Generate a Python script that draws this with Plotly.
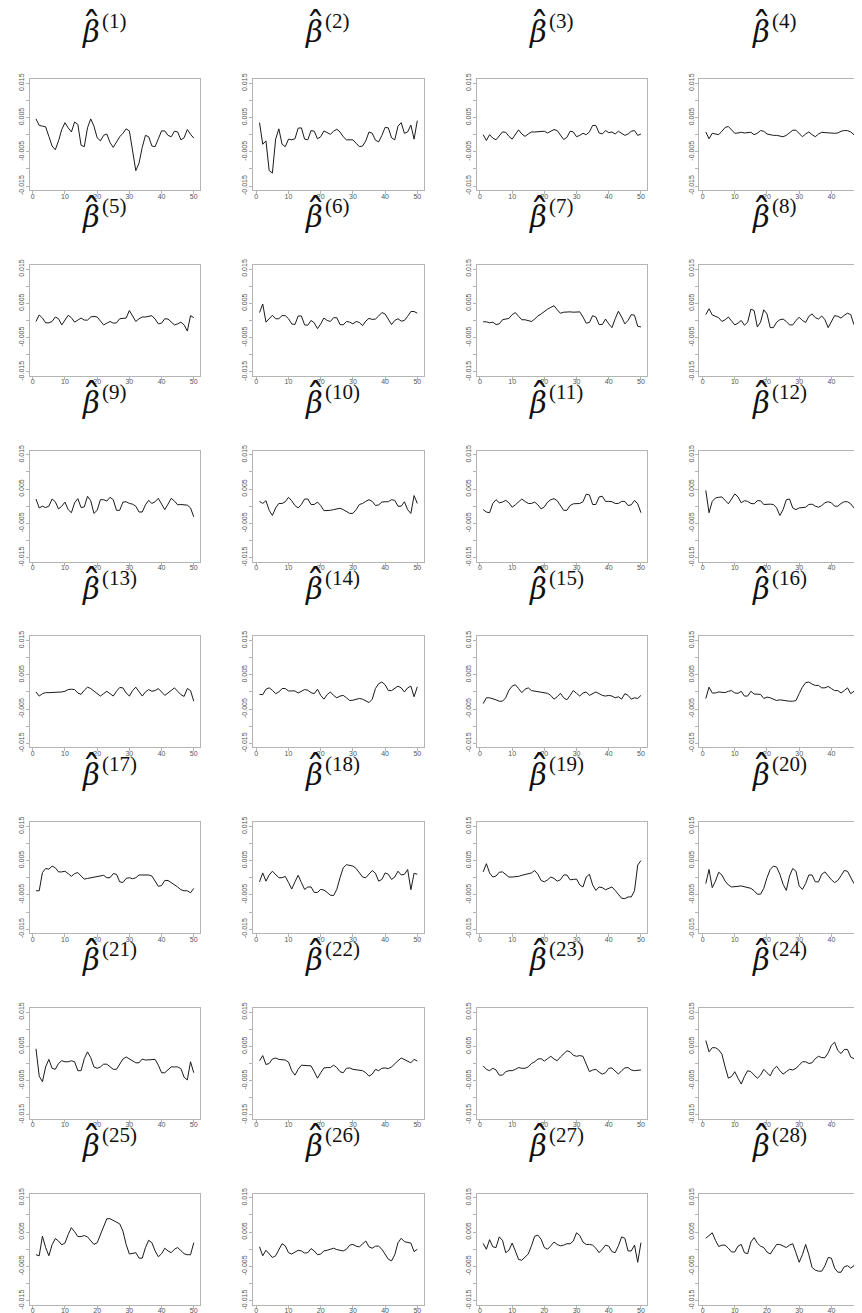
import plotly.graph_objects as go

# x positions (observation index)
obs_index = list(range(1, 51))

# Estimated coefficient paths, values in units of 0.001
beta_01 = [4.6,2.7,2.5,2.3,-0.5,-3.3,-4.4,-1.8,1.5,3.5, 2.0,0.8,3.7,3.0,-3.1,-3.5,2.0,4.6,2.5,-0.9,
           -1.8,-0.2,0.2,-2.3,-3.7,-2.3,-0.6,0.4,1.7,1.1, -4.2,-10.5,-8.3,-3.7,-0.2,-0.6,-3.3,-3.5,-1.2,1.1,
           1.1,-0.2,-0.6,1.0,0.8,-1.5,-0.9,1.5,0.1,-1.0]
beta_02 = [3.5,-2.8,-1.8,-10.5,-11.2,-1.3,1.7,-2.8,-3.5,-1.3, -1.5,-1.2,1.9,2.0,-1.3,-1.5,1.2,1.0,-1.2,-0.6,
           1.1,0.6,0.1,1.0,1.6,0.8,-0.6,-1.5,-1.6,-1.5, -2.5,-3.5,-3.3,-1.8,0.8,0.4,-1.6,-2.1,-0.2,2.1,
           2.0,-0.9,-1.5,2.5,3.5,0.4,0.8,2.8,-1.3,4.1]
beta_03 = [0,-1.7,0,-1.0,-1.5,-0.5,0.8,0.7,-0.5,-1.3, 0.2,1.4,0.2,-0.5,0.2,0.8,0.8,0.8,0.8,1.0,
           0.5,1.0,1.5,1.2,0,-1.4,-0.8,1.0,0.8,-0.6, -0.2,0.4,0,0.8,2.7,2.7,0.5,0.2,1.2,0.6,
           0.8,0.2,1.0,0.4,-0.2,0.2,1.0,1.2,-0.2,0.2]
beta_04 = [0.8,-1.2,0.4,0.2,0,1.0,2.1,2.4,1.4,0.4, 0.5,0.7,0.5,0.6,0.7,0,0.4,1.2,1.0,0.2,
           -0.1,-0.2,-0.2,-0.4,-0.6,-0.2,0.6,1.3,1.3,0.4, -0.6,0.2,0.8,0,-0.6,0.2,0.7,0.6,0.5,0.4,
           0.4,0.5,1.0,1.2,1.2,0.8,0,-0.8,-2.1,1.0]
beta_05 = [-0.3,1.6,0.7,-0.7,-0.7,-0.3,1.0,0.5,-1.3,0, 1.5,0.8,-0.5,0.1,0.7,0.1,0.1,1.0,1.2,1.0,
           -0.2,-1.3,-0.8,-0.3,-0.8,-0.7,0.5,0.7,0.7,2.9, 1.4,-0.3,0.5,1.0,1.0,1.2,1.4,0.4,-1.0,-0.8,
           0.5,0.4,-0.5,-1.3,-1.0,-0.5,-1.3,-3.1,1.4,0.8]
beta_06 = [2.3,4.8,-0.5,0.4,1.5,0.5,0.5,1.4,1.4,0.5, -1.0,-1.2,1.3,1.3,-1.3,-1.4,0,-0.7,-2.4,-1.0,
           0.7,0,-0.3,0.8,0.8,-1.2,-1.3,-0.3,-0.5,-1.0, -0.3,-0.6,-1.5,-0.2,0.6,0.3,0.4,1.3,2.3,1.9,
           0.5,-1.2,0,0.5,-0.2,0,1.2,2.6,2.6,2.1]
beta_07 = [-0.4,-0.4,-0.7,-0.5,-1.2,-1.0,0.2,0.5,0.6,1.7, 2.3,1.2,0.2,0.2,0,-0.3,0.4,1.3,1.9,2.7,
           3.3,3.8,4.3,3.1,2.1,2.4,2.5,2.5,2.4,2.5, 2.5,1.0,-0.8,-0.6,1.4,1.0,-1.2,-1.2,0.4,-1.0,
           -2.1,0.5,2.7,1.0,-1.0,0,1.7,1.5,-1.7,-1.9]
beta_08 = [1.7,3.4,1.6,1.3,0.8,-0.3,0.2,1.0,0,-1.3, -0.8,0,-1.4,-0.5,3.3,2.9,-1.9,-0.5,3.1,1.9,
           -2.1,-2.1,-0.5,0.2,0.4,-0.3,-1.3,-1.3,0,0.9, 0,-0.6,1.2,1.9,0.8,0.4,1.3,0.2,-2.1,-0.3,
           1.4,1.2,0.7,1.5,2.1,1.7,-1.2,-2.1,3.4,1.7]
beta_09 = [2.1,-0.5,0,-0.4,0,2.1,1.3,-0.8,0,1.2, -1.0,-1.9,1.0,2.2,-0.4,-0.2,2.9,1.6,-2.1,-1.2,
           1.9,1.9,1.5,2.6,1.9,-1.2,-1.2,1.2,1.3,0.8, 0.6,0,-1.7,-1.7,0.4,1.7,0.8,1.3,2.3,0.8,
           -1.0,0.6,2.3,1.5,0.4,0.5,0.5,0.3,-0.5,-3.1]
beta_10 = [1.4,0.8,1.6,-1.2,-2.7,-0.5,0.8,0.8,1.3,2.6, 1.6,0.2,-0.5,0.5,2.1,2.1,0.5,0.5,1.2,0.2,
           -1.3,-1.3,-1.2,-1.0,-0.7,-0.6,-1.0,-1.5,-2.1,-2.1, -1.0,0.5,0.8,1.4,1.9,1.4,0.2,0.4,1.2,1.3,
           1.3,1.9,1.7,0,0,1.3,-1.0,-2.1,3.1,0.8]
beta_11 = [-1.0,-1.7,-1.9,0.8,1.9,1.0,1.2,1.7,1.0,-0.3, 0.4,1.3,2.1,1.4,0.8,0.8,1.2,0.4,-0.8,-0.2,
           1.2,1.9,2.2,1.6,0,-1.2,-1.2,0.2,0.7,0.8, 0.8,1.3,3.5,3.3,0.5,0.5,2.7,2.9,1.4,1.4,
           1.3,0.8,0.8,1.4,1.4,0.2,0.4,1.7,0.7,-1.9]
beta_12 = [4.6,-1.9,1.4,2.4,2.6,2.7,1.7,0.7,2.1,3.6, 2.7,1.0,1.6,1.4,0.8,0.7,1.6,1.6,0.5,0.6,
           0.6,0.5,-0.5,-2.7,-1.0,1.9,2.1,-0.5,-1.0,-0.5, -0.5,-0.3,0.5,0.6,0,-0.3,0.2,1.0,1.3,1.0,
           0,0,0.8,1.3,1.3,0.7,-0.5,-1.2,-0.3,-1.9]
beta_13 = [0,-1.2,-0.5,-0.2,-0.2,-0.2,-0.2,-0.2,0,0.2, 0.7,0.8,0.7,-0.3,-0.7,0.5,1.4,1.0,0.2,-0.5,
           -1.2,-0.5,0.2,-0.5,-1.2,0.2,1.3,1.2,-0.3,-1.2, 0.4,1.4,0,-1.2,0,0.7,0.2,0.4,1.0,0,
           -1.0,-0.3,0.5,1.2,0.2,-0.8,-1.3,1.0,0.4,-2.7]
beta_14 = [-0.7,-0.8,0.8,1.2,0.5,-0.5,0,1.0,1.0,0.3, 0.3,0.3,-0.3,0.2,0.7,0.5,-0.2,-0.5,0.8,-1.0,
           -2.1,-0.8,0,-1.0,-1.7,-1.2,-1.0,-1.7,-2.5,-2.4, -2.1,-1.9,-2.1,-2.5,-3.1,-2.1,1.0,2.4,2.9,2.1,
           0.4,0.4,1.0,1.7,1.2,0,1.2,1.7,-1.4,1.5]
beta_15 = [-3.4,-1.7,-1.7,-1.9,-2.3,-2.7,-2.7,-1.7,0.5,1.7, 2.1,1.0,-0.2,0.8,1.2,0.4,0.2,0.2,0,-0.3,
           -0.4,-1.0,-2.1,-1.4,-0.4,-1.7,-2.3,-1.0,0.4,-0.4, -1.2,-0.3,0,-1.0,-0.5,0,-0.5,-1.0,-1.2,-1.0,
           -1.2,-1.7,-1.4,-2.1,-0.5,-1.0,-2.1,-1.7,-1.9,-1.0]
beta_16 = [-1.9,1.4,-0.3,-0.3,0,-0.2,-0.2,0.2,0.4,-0.3, -0.4,0.2,-1.2,-1.2,0.2,-0.6,-0.7,-0.7,-1.9,-1.5,
           -1.7,-2.1,-2.5,-2.3,-2.5,-2.7,-2.7,-2.7,-2.5,-0.5, 1.4,2.7,2.9,2.3,1.9,1.9,1.2,1.2,1.6,1.0,
           0.4,0.4,-0.3,0.4,1.2,-0.5,0.2,1.4,0,0.5]
beta_17 = [-3.8,-3.8,1.5,2.7,2.5,3.4,2.9,1.7,1.7,1.9, 1.2,0.4,1.2,1.5,0.5,-0.4,-0.2,0,0.2,0.4,
           0.7,0.7,0,0,1.2,1.0,-1.2,-1.4,-0.2,0, -0.3,0,0.8,0.8,0.8,0.8,0.5,-1.0,-2.5,-2.3,
           -0.8,-0.8,-1.4,-2.1,-2.7,-3.5,-3.8,-3.8,-4.4,-3.1]
beta_18 = [-1.2,1.4,-1.0,0.8,1.9,0.8,0,0,0.4,-1.4, -3.3,-1.2,0.7,-1.4,-3.4,-2.7,-2.7,-4.3,-4.3,-3.4,
           -3.6,-4.3,-5.1,-5.2,-3.4,0,2.9,3.8,3.7,3.4, 2.7,1.6,0.2,0,1.0,2.1,1.3,-1.0,-0.5,1.4,
           1.0,-0.5,0.2,1.9,0.8,1.0,2.4,-3.5,1.3,1.0]
beta_19 = [1.7,4.1,1.4,0.2,0.5,1.6,1.7,0.8,0.2,0.2, 0.2,0.4,0.7,1.0,1.2,1.4,2.1,1.0,-0.8,-1.2,
           -0.6,0.2,-0.2,-1.0,-0.6,0.8,0.8,-0.6,-0.5,-0.4, -2.1,-2.7,0.2,1.0,-2.1,-3.7,-2.7,-2.9,-3.5,-3.1,
           -2.7,-3.7,-4.8,-6.0,-6.1,-5.6,-5.6,-3.8,3.7,5.0]
beta_20 = [-1.7,2.4,-2.9,-1.0,1.6,0.8,-1.0,-2.1,-2.7,-2.7, -2.5,-2.4,-2.7,-2.9,-3.1,-3.8,-4.8,-4.8,-3.1,0,
           2.4,3.4,3.1,1.0,-1.9,-3.7,0.5,2.7,1.9,-2.4, -3.4,-1.7,0.8,0.8,-1.2,-1.2,1.0,1.7,0.4,-0.6,
           -1.4,-0.8,0.6,2.1,1.9,0.2,-1.7,-1.2,2.9,-3.1]
beta_21 = [4.3,-3.7,-5.3,-1.0,1.2,-1.4,-1.7,0,0.8,0.5, 0.5,0.8,0.5,-2.1,-2.1,1.4,3.4,1.7,-1.0,-1.4,
           -1.0,-0.2,-0.2,-1.0,-1.7,-1.7,0,1.3,1.9,1.4, 0.7,0.2,0.2,1.3,1.0,1.0,1.0,1.2,-0.5,-2.7,
           -2.7,-1.9,-1.0,-1.0,-1.0,-1.5,-4.0,-4.8,0.5,-2.7]
beta_22 = [0.8,2.3,-0.3,0,1.3,1.6,1.2,1.0,1.0,0.4, -2.1,-3.4,-1.7,-0.5,-0.5,-0.6,-0.7,-2.4,-4.3,-2.7,
           -1.3,-1.2,-1.2,-0.5,-1.2,-2.4,-2.7,-1.4,-1.3,-1.7, -1.9,-1.9,-2.1,-2.7,-3.7,-3.1,-1.7,-2.1,-1.4,-1.3,
           -1.5,-1.0,0,0.8,1.6,1.2,0.8,0.2,1.2,0.7]
beta_23 = [-0.7,-1.7,-2.1,-1.4,-1.9,-3.4,-3.4,-2.4,-2.1,-2.1, -1.7,-1.2,-1.4,-1.4,-1.0,0,0.5,1.3,1.4,0.7,
           1.4,2.1,1.3,0.8,1.9,2.9,3.7,3.4,2.4,2.1, 2.3,2.1,0,-2.4,-1.9,-1.7,-2.5,-3.1,-2.7,-1.4,
           -1.3,-2.1,-3.1,-2.1,-1.3,-1.2,-1.9,-2.1,-1.9,-1.9]
beta_24 = [6.7,3.4,4.6,4.6,4.0,2.7,-1.0,-4.3,-3.8,-2.4, -4.3,-6.0,-3.8,-2.1,-2.4,-3.4,-4.3,-3.4,-1.7,-2.7,
           -3.6,-1.7,-0.8,-2.1,-3.1,-2.4,-1.7,-1.9,-1.4,-0.5, 0.5,0.5,0,0.2,1.4,2.1,1.7,1.7,3.1,5.3,
           6.2,3.8,2.9,4.1,4.1,1.9,1.4,2.9,2.7,6.3]
beta_25 = [-1.6,-1.9,3.8,0.5,-1.9,1.3,3.1,2.4,1.3,1.8, 4.3,6.3,5.1,3.7,3.7,4.0,3.6,2.4,1.4,1.9,
           4.3,6.7,8.9,8.9,8.4,8.0,7.4,5.3,1.4,-1.4, -1.3,-1.0,-2.6,-2.6,0.5,2.6,1.9,-0.5,-2.2,-1.3,
           0.3,-0.5,-1.0,0,0.5,-0.5,-1.3,-1.6,-1.6,1.9]
beta_26 = [0.7,-1.9,-0.3,-1.3,-2.4,-1.9,0,1.6,1.0,-1.0, -1.4,-0.8,-0.3,-0.5,-1.1,-1.0,0.2,-0.5,-1.6,-1.4,
           -0.5,-0.3,-0.1,0.3,-0.1,-0.3,-0.5,0,1.2,1.4, 0.9,0.7,1.6,2.4,0.7,0.3,0.9,0.9,0,-1.6,
           -2.9,-3.4,-1.6,1.9,3.2,2.2,2.0,1.8,-0.7,0]
beta_27 = [1.7,0,2.8,0.7,0.5,3.6,2.6,-1.0,-0.3,1.8, -0.5,-3.0,-3.2,-2.4,-1.4,1.0,3.8,4.1,2.9,0.5,
           0,1.0,2.1,1.4,1.0,1.2,1.6,1.6,2.4,4.8, 4.0,2.1,1.4,1.4,1.2,0.3,-1.0,0,1.2,0.9,
           -0.7,-1.0,1.0,3.6,3.2,-0.5,-0.5,1.2,-3.8,1.9]
beta_28 = [3.2,3.9,4.8,2.6,0.8,1.2,1.2,0.3,-0.8,-0.8, 0.9,1.4,-1.0,-1.3,2.1,3.4,1.8,0.9,0.5,-0.8,
           -1.4,0,1.4,1.4,1.0,0.5,1.2,1.6,-1.0,-3.8, -1.6,1.4,-1.6,-5.3,-6.1,-6.4,-6.4,-4.8,-2.4,-2.6,
           -5.5,-6.7,-6.7,-5.1,-4.8,-5.5,-4.8,-2.6,-3.6,-1.6]

series = [beta_01, beta_02, beta_03, beta_04, beta_05, beta_06, beta_07, beta_08, beta_09, beta_10,
          beta_11, beta_12, beta_13, beta_14, beta_15, beta_16, beta_17, beta_18, beta_19, beta_20,
          beta_21, beta_22, beta_23, beta_24, beta_25, beta_26, beta_27, beta_28]

y_tickvals = [-0.015, -0.005, 0.005, 0.015]
y_ticktext = ["-0.015", "-0.005", "0.005", "0.015"]
y_minorvals = [-0.01, 0, 0.01]
x_tickvals = [0, 10, 20, 30, 40, 50]

W, H = 862, 1313
col_left = [21.7, 245.5, 469.4, 692.3]
panel_w = 170.6
row_top0, row_pitch, panel_h = 65.7, 187.33, 112.0
x_range = [-0.96, 51.96]
px_per_unit = panel_w / (x_range[1] - x_range[0])

fig = go.Figure()
axis_col = "#b4b4b4"
tick_font = dict(family="Liberation Sans, Arial, sans-serif", size=7, color="#555555")
title_col = "#111111"

for i, vals in enumerate(series):
    r, c = divmod(i, 4)
    left = col_left[c]
    right = min(left + panel_w, W)
    top = row_top0 + r * row_pitch
    bottom = top + panel_h
    cx = left + panel_w / 2
    xr = [x_range[0], x_range[0] + (right - left) / px_per_unit]
    n = "" if i == 0 else str(i + 1)
    fig.add_trace(go.Scatter(
        x=obs_index, y=[v / 1000 for v in vals], mode="lines",
        line=dict(color="#1a1a1a", width=1), xaxis="x" + n, yaxis="y" + n,
        showlegend=False, hoverinfo="skip"))
    fig.layout["xaxis" + n] = dict(
        domain=[left / W, right / W], range=xr, anchor="y" + n,
        tickvals=x_tickvals, ticks="outside", ticklen=3, tickcolor=axis_col,
        showline=True, linecolor=axis_col, linewidth=1, mirror=True,
        showgrid=False, zeroline=False, tickfont=tick_font, tickangle=0,
        ticklabelstandoff=-4, ticklabeloverflow="allow")
    fig.layout["yaxis" + n] = dict(
        domain=[1 - bottom / H, 1 - top / H], range=[-0.0162, 0.0162], anchor="x" + n,
        tickvals=y_tickvals, ticktext=y_ticktext, ticks="outside", ticklen=3, tickcolor=axis_col,
        minor=dict(tickvals=y_minorvals, ticks="outside", ticklen=3, tickcolor=axis_col),
        showline=True, linecolor=axis_col, linewidth=1, mirror=True,
        showgrid=False, zeroline=False, tickfont=tick_font, tickangle=-90,
        ticklabelstandoff=-1)
    # title: beta, hat and superscript index
    fig.add_annotation(
        x=(cx - 24) / W, y=1 - (top - 48) / H, xref="paper", yref="paper",
        xanchor="center", yanchor="middle", showarrow=False,
        text="<i>β</i>",
        font=dict(family="DejaVu Serif, serif", size=29, color=title_col))
    fig.add_annotation(
        x=(cx - 15) / W, y=1 - (top - 59) / H, xref="paper", yref="paper",
        xanchor="left", yanchor="middle", showarrow=False,
        text="(%d)" % (i + 1),
        font=dict(family="Liberation Serif, serif", size=21, color=title_col))
    fig.add_annotation(
        x=(cx - 23) / W, y=1 - (top - 78) / H, xref="paper", yref="paper",
        xanchor="center", yanchor="top", valign="top", height=14, showarrow=False,
        text="ˆ",
        font=dict(family="DejaVu Serif, serif", size=38, color=title_col))

fig.update_layout(width=W, height=H, margin=dict(l=0, r=0, t=0, b=0),
                  paper_bgcolor="white", plot_bgcolor="white")
fig.write_html("out.html")
